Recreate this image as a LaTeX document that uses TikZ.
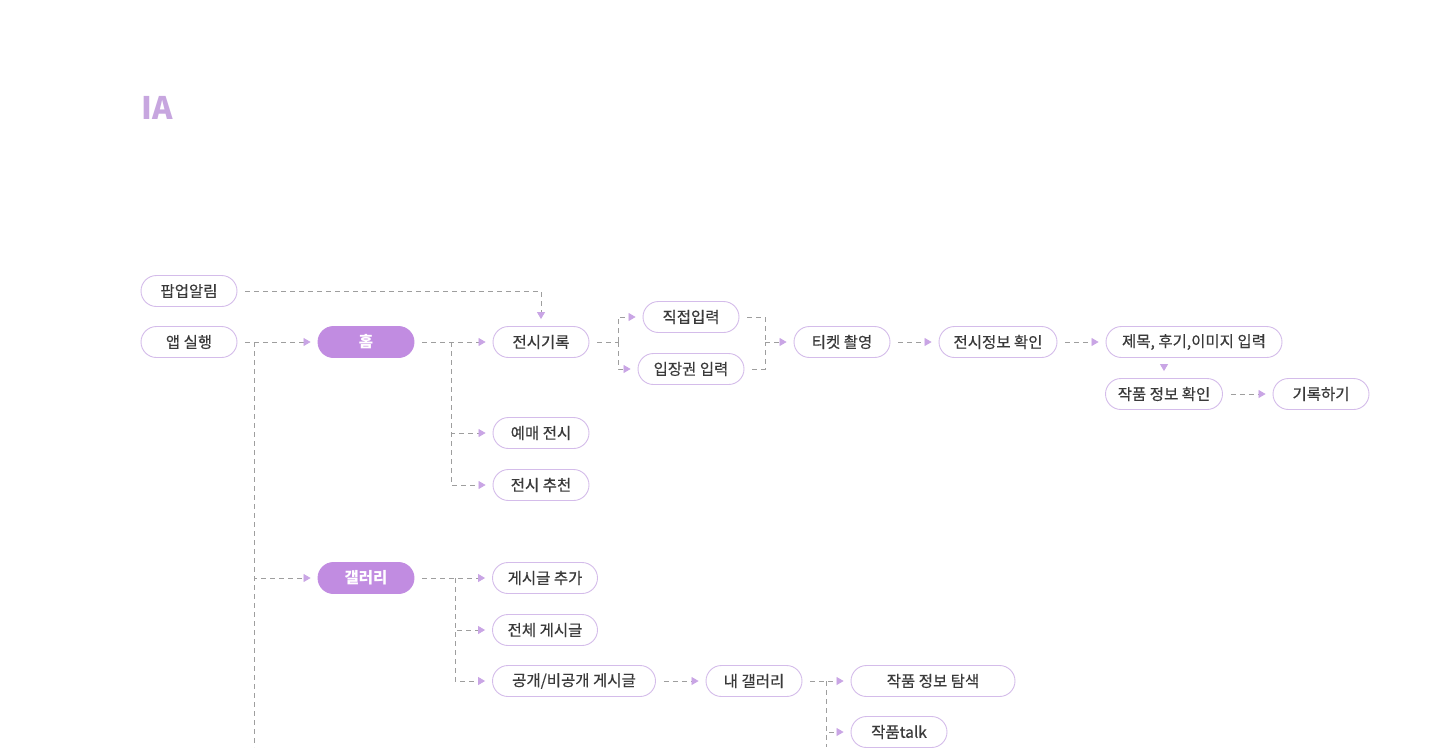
\documentclass[tikz,border=0pt]{standalone}
\usepackage{fontspec}
\setmainfont{Noto Sans CJK KR}
\newfontfamily\medfont[FakeBold=0.35]{Noto Sans CJK KR}
\usetikzlibrary{arrows.meta}
\definecolor{lila}{HTML}{C18CE1}
\definecolor{lilaline}{HTML}{D4BCEA}
\definecolor{lilatip}{HTML}{C9A5E5}
\definecolor{lilatitle}{HTML}{C7A6DF}
\definecolor{linea}{HTML}{9E9E9E}
\definecolor{testo}{HTML}{3A3A3A}
\tikzset{
  box/.style={draw=lilaline, line width=0.9pt, rounded corners=15.5pt,
    minimum height=31pt, minimum width=96pt, inner sep=0pt, text=testo,
    font=\medfont\fontsize{15.5}{17}\selectfont},
  boxon/.style={box, fill=lila, draw=lila, text=white,
    font=\fontsize{15.5}{17}\selectfont\bfseries},
  trunk/.style={draw=linea, line width=0.8pt, dash pattern=on 5pt off 4pt},
  link/.style={trunk, shorten <=8pt, shorten >=7pt,
    -{Triangle[length=7pt,width=8pt,color=lilatip]}}
}

\begin{document}
\begin{tikzpicture}[x=1pt,y=-1pt]
   \useasboundingbox[fill=white] (0,0) rectangle (1440,747);
% titolo
   \node[text=lilatitle, font=\fontsize{31}{31}\selectfont\bfseries,
   anchor=west] (title) at (138,108) {IA};
% avvio
   \node[box] (popup) at (189,291) {팝업알림};
   \node[box] (run) at (189,342) {앱 실행};
% home
   \node[boxon] (home) at (366,342) {홈};
   \node[box] (record) at (541,342) {전시기록};
   \node[box] (presale) at (541,433) {예매 전시};
   \node[box] (recommend) at (541,485) {전시 추천};
% registrazione
   \node[box] (direct) at (691,317) {직접입력};
   \node[box, minimum width=106pt] (ticket) at (691,369) {입장권 입력};
   \node[box] (photo) at (842,342) {티켓 촬영};
   \node[box, minimum width=118pt] (info) at (998,342) {전시정보 확인};
   \node[box, minimum width=176pt] (input) at (1194,342) {제목, 후기,이미지 입력};
   \node[box, minimum width=117pt] (work) at (1164,394) {작품 정보 확인};
   \node[box] (save) at (1321,394) {기록하기};
% galleria
   \node[boxon] (gallery) at (366,578) {갤러리};
   \node[box, minimum width=105pt] (addpost) at (545,578) {게시글 추가};
   \node[box, minimum width=105pt] (allpost) at (545,630) {전체 게시글};
   \node[box, minimum width=163pt] (openpost) at (574,681) {공개/비공개 게시글};
   \node[box] (mygallery) at (754,681) {내 갤러리};
   \node[box, minimum width=164pt] (explore) at (933,681) {작품 정보 탐색};
   \node[box] (talk) at (899,732) {작품talk};
% snodi
   \coordinate (jrun) at (254,342); \coordinate (jrunend) at (254,747);
   \coordinate (jhome) at (451,342); \coordinate (jrec) at (618,342);
   \coordinate (jin) at (765,342); \coordinate (jgal) at (455,578);
   \coordinate (jmy) at (826,681); \coordinate (jmyend) at (826,747);
% collegamenti home
   \draw[link] (popup.east) -| (record.north);
   \draw[link] (run.east) -- (home.west); \draw[trunk] (jrun) -- (jrunend);
   \draw[link, shorten <=0pt] (jrun) |- (gallery.west);
   \draw[link] (home.east) -- (record.west);
   \draw[link, shorten <=0pt] (jhome) |- (presale.west);
   \draw[link, shorten <=0pt] (jhome) |- (recommend.west);
% collegamenti registrazione
   \draw[trunk, shorten <=8pt] (record.east) -- (jrec);
   \draw[link, shorten <=0pt] (jrec) |- (direct.west);
   \draw[link, shorten <=0pt] (jrec) |- (ticket.west);
   \draw[trunk, shorten <=8pt] (direct.east) -| (jin);
   \draw[trunk, shorten <=8pt] (ticket.east) -| (jin);
   \draw[link, shorten <=0pt] (jin) -- (photo.west);
   \draw[link] (photo.east) -- (info.west);
   \draw[link] (info.east) -- (input.west);
   \draw[link] (input.south -| work.north) -- (work.north);
   \draw[link] (work.east) -- (save.west);
% collegamenti galleria
   \draw[link] (gallery.east) -- (addpost.west);
   \draw[link, shorten <=0pt] (jgal) |- (allpost.west);
   \draw[link, shorten <=0pt] (jgal) |- (openpost.west);
   \draw[link] (openpost.east) -- (mygallery.west);
   \draw[link] (mygallery.east) -- (explore.west);
   \draw[trunk] (jmy) -- (jmyend);
   \draw[link, shorten <=0pt] (jmy) |- (talk.west);
\end{tikzpicture}
\end{document}
